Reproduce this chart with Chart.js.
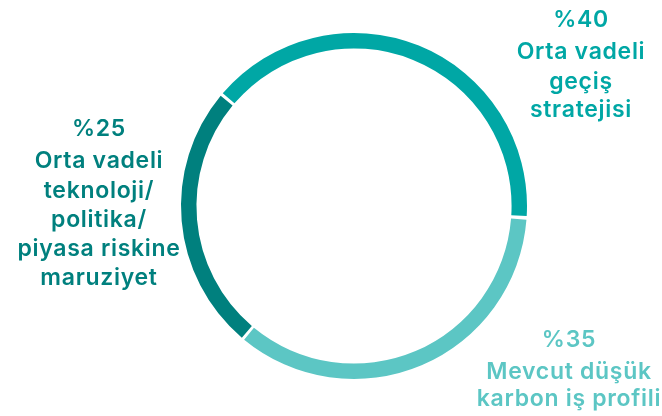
<!DOCTYPE html>
<html>
<head>
<meta charset="utf-8">
<script src="https://cdn.jsdelivr.net/npm/chart.js@4.4.0/dist/chart.umd.min.js"></script>
<style>
  html, body { margin: 0; padding: 0; background: #ffffff; }
  #wrap { position: relative; width: 662px; height: 416px; }
</style>
</head>
<body>
<div id="wrap"><canvas id="c" width="662" height="416"></canvas></div>
<script>
const categories = ['Orta vadeli geçiş stratejisi', 'Mevcut düşük karbon iş profili', 'Orta vadeli teknoloji/politika/piyasa riskine maruziyet'];
const values = [40, 35, 25];
const percentLabels = ['%40', '%35', '%25'];
const labelLines = [
  ['Orta vadeli', 'geçiş', 'stratejisi'],
  ['Mevcut düşük', 'karbon iş profili'],
  ['Orta vadeli', 'teknoloji/', 'politika/', 'piyasa riskine', 'maruziyet']
];
const colors = ['#00a7a5', '#5cc6c4', '#00807e'];

// label layout: centre x and baselines of each text block
const labelLayout = [
  { x: 581, baselines: [27, 59, 89, 117] },
  { x: 569, baselines: [347, 379, 406] },
  { x: 99, baselines: [136, 168, 198, 227, 256, 285] }
];

const labelPlugin = {
  id: 'labels',
  afterDraw(chart) {
    const ctx = chart.ctx;
    ctx.save();
    ctx.textAlign = 'center';
    ctx.textBaseline = 'alphabetic';
    ctx.font = '600 23px Inter, "Noto Sans", sans-serif';
    if ('letterSpacing' in ctx) ctx.letterSpacing = '0.7px';
    values.forEach((v, i) => {
      const lay = labelLayout[i];
      const lines = [percentLabels[i]].concat(labelLines[i]);
      ctx.fillStyle = colors[i];
      lines.forEach((t, j) => {
        ctx.fillText(t, lay.x, lay.baselines[j]);
      });
    });
    ctx.restore();
  }
};

new Chart(document.getElementById('c'), {
  type: 'doughnut',
  data: {
    labels: categories,
    datasets: [{
      data: values,
      backgroundColor: colors,
      borderWidth: 0,
      spacing: 3
    }]
  },
  options: {
    responsive: false,
    animation: false,
    rotation: -50,
    cutout: '91%',
    layout: { padding: { left: 181, right: 135, top: 32, bottom: 36 } },
    plugins: { legend: { display: false }, tooltip: { enabled: false } }
  },
  plugins: [labelPlugin]
});
</script>
</body>
</html>
